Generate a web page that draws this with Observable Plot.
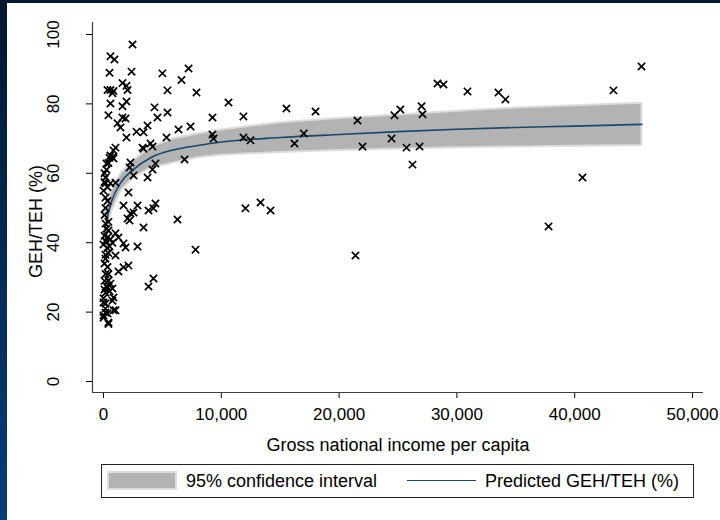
<!DOCTYPE html>
<html>
<head>
<meta charset="utf-8">
<script src="https://cdn.jsdelivr.net/npm/d3@7"></script>
<script src="https://cdn.jsdelivr.net/npm/@observablehq/plot@0.6"></script>
<style>
  body { margin: 0; }
  #bg { position: relative; width: 720px; height: 520px; background: linear-gradient(to bottom, #03172e, #013d7b); overflow: hidden; }
  #inner { position: absolute; left: 7px; top: 3px; width: 713px; height: 517px; background: #fff; font-family: "Liberation Sans", Arial, sans-serif; }
  #chart { position: absolute; left: 0; top: 0; }
  #legend { position: absolute; left: 94px; top: 461px; width: 591px; height: 32px; border: 1px solid #222; background: #fff; }
  #legend .sw { position: absolute; left: 5px; top: 6px; width: 66px; height: 15px; background: #b3b3b3; border: 2px solid #dcdcdc; }
  #legend .ln { position: absolute; left: 305px; top: 15px; width: 69px; height: 0; border-top: 1.5px solid #1a476f; }
  #legend .t { position: absolute; top: 0; line-height: 32px; font-size: 18px; color: #000; white-space: nowrap; }
</style>
</head>
<body>
<div id="bg"><div id="inner"><div id="chart"></div>
<div id="legend">
  <div class="sw"></div><div class="t" id="t1" style="left:84px"></div>
  <div class="ln"></div><div class="t" id="t2" style="left:383px"></div>
</div></div></div>
<script>
// ---- data ----
const xLabel = "Gross national income per capita";
const yLabel = "GEH/TEH (%)";
const legendLabels = ["95% confidence interval", "Predicted GEH/TEH (%)"];
const xTicks = [0, 10000, 20000, 30000, 40000, 50000];
const yTicks = [0, 20, 40, 60, 80, 100];

// scatter points: GNI per capita, GEH/TEH (%)
const gni = [
  17000,18000,21560,21990,21390,24700,25200,24450,25720,26230,26830,27000,27080,28350,28860,30900,33530,34120,37780,40660,43290,45670,
  12050,13330,14180,
  2460,590,930,510,2380,5000,7220,6620,5430,7890,340,590,850,760,1610,1950,2040,590,1950,1610,4330,5430,4580,420,1610,1870,9250,10610,11880,15530,
  1190,1440,2800,3400,3740,6370,7390,1950,5350,9250,9340,11880,12480,16210,3310,3400,3990,4160,1020,850,590,250,760,850,2290,2210,4410,4160,6880,3740,2550,170,
  170,590,1020,2120,1700,2890,3820,4240,4410,2290,2550,2040,2210,3400,6280,7810,
  170,420,590,170,340,760,420,170,1020,1270,1700,1870,2890,1020,170,2120,1700,1270,
  170,420,590,340,760,170,850,0,170,4240,3820,170,850,0,420,340,0,760,170,1020,0,420,
  0,170,340,85,255,425,510,85,340,170,85,425,255,85,340,0,255,510,85,340,425,85,255,510,85
];
const geh = [
  71.5,77.8,75.2,67.7,36.3,76.7,78.4,70.0,67.4,62.5,67.7,79.3,77.0,85.9,85.6,83.6,83.3,81.3,44.7,58.8,83.9,90.8,
  49.9,51.6,49.3,
  97.1,93.7,92.8,89.0,89.3,88.8,90.2,86.9,83.9,83.3,84.0,84.0,83.7,83.1,86.0,85.2,84.0,80.1,80.7,79.3,79.0,77.5,76.1,76.7,76.1,75.8,76.1,80.4,76.4,78.7,
  74.4,73.2,72.0,71.8,73.8,72.6,73.5,70.3,70.3,71.2,70.0,70.3,69.5,68.6,67.4,67.1,68.6,67.7,67.4,66.6,65.1,62.8,64.6,64.3,63.1,61.7,62.8,61.1,64.0,58.8,59.4,58.8,
  57.1,57.1,57.3,54.5,50.7,50.7,49.3,49.9,51.3,48.4,48.7,47.0,46.4,44.4,46.7,38.0,
  45.5,43.5,41.0,40.5,38.5,40.0,37.0,36.5,42.7,41.5,39.8,38.6,38.9,36.3,35.4,33.4,32.9,31.7,
  31.0,29.1,28.2,27.0,26.8,25.6,24.2,24.0,22.5,29.7,27.4,21.0,20.5,19.0,17.0,19.6,22.8,23.3,19.9,20.5,18.4,16.6,
  55.0,53.0,52.0,60.0,61.0,63.0,64.5,57.5,56.0,50.0,48.0,46.0,44.0,42.0,41.5,39.5,40.3,39.0,34.0,33.0,31.0,29.0,27.5,26.0,26.5
];

// fitted prediction and 95% CI
const fitGni = [100, 300, 700, 1500, 2500, 4000, 6000, 8000, 10000, 15000, 20000, 25000, 30000, 35000, 40000, 45700];
const fitY   = [43, 47, 52, 57.5, 61, 64.5, 66.8, 68, 69, 70.3, 71.2, 72, 72.7, 73.2, 73.6, 74.1];
const fitLo  = [37, 43, 49, 55, 58.5, 61.5, 63, 64.5, 65.2, 66, 66.6, 67, 67.4, 67.6, 67.8, 68];
const fitHi  = [49, 51, 55, 60, 63.5, 67.5, 70, 71.3, 72.5, 74.6, 75.8, 76.8, 77.9, 78.8, 79.5, 80.2];

// ---- build ----
const points = gni.map((g, i) => ({gni: g, geh: geh[i]}));
const fit = fitGni.map((g, i) => ({gni: g, fit: fitY[i], lo: fitLo[i], hi: fitHi[i]}));
const xDomain = [-934, 50934];
const yDomain = [-3.17, 103.46];

const chart = Plot.plot({
  width: 713, height: 460,
  marginLeft: 85, marginRight: 17, marginTop: 19, marginBottom: 71,
  style: {fontFamily: '"Liberation Sans", Arial, sans-serif', fontSize: "17px", color: "#000", background: "transparent"},
  x: {domain: xDomain, ticks: xTicks, tickFormat: d3.format(","), tickSize: 6, tickPadding: 9, label: null},
  y: {domain: yDomain, ticks: yTicks, tickSize: 6, tickPadding: 28, tickRotate: -90, label: null},
  marks: [
    Plot.areaY(fit, {x: "gni", y1: "lo", y2: "hi", fill: "#b3b3b3", stroke: "#dcdcdc", strokeWidth: 2}),
    Plot.line(fit, {x: "gni", y: "fit", stroke: "#1a476f", strokeWidth: 1.6, curve: "monotone-x"}),
    Plot.dot(points, {x: "gni", y: "geh", symbol: "times", r: 3.4, stroke: "#000", strokeWidth: 1.7}),
    Plot.ruleX([xDomain[0]], {stroke: "#404040", strokeWidth: 1.2}),
    Plot.ruleY([yDomain[0]], {stroke: "#404040", strokeWidth: 1.2}),
    Plot.text([xLabel], {frameAnchor: "bottom", dy: 46, lineAnchor: "top", textAnchor: "middle", fontSize: 18, text: d => d}),
    Plot.text([yLabel], {frameAnchor: "left", dx: -56, dy: 14, rotate: -90, textAnchor: "middle", lineAnchor: "middle", fontSize: 18, text: d => d})
  ]
});
document.getElementById("chart").appendChild(chart);
document.getElementById("t1").textContent = legendLabels[0];
document.getElementById("t2").textContent = legendLabels[1];
</script>
</body>
</html>
